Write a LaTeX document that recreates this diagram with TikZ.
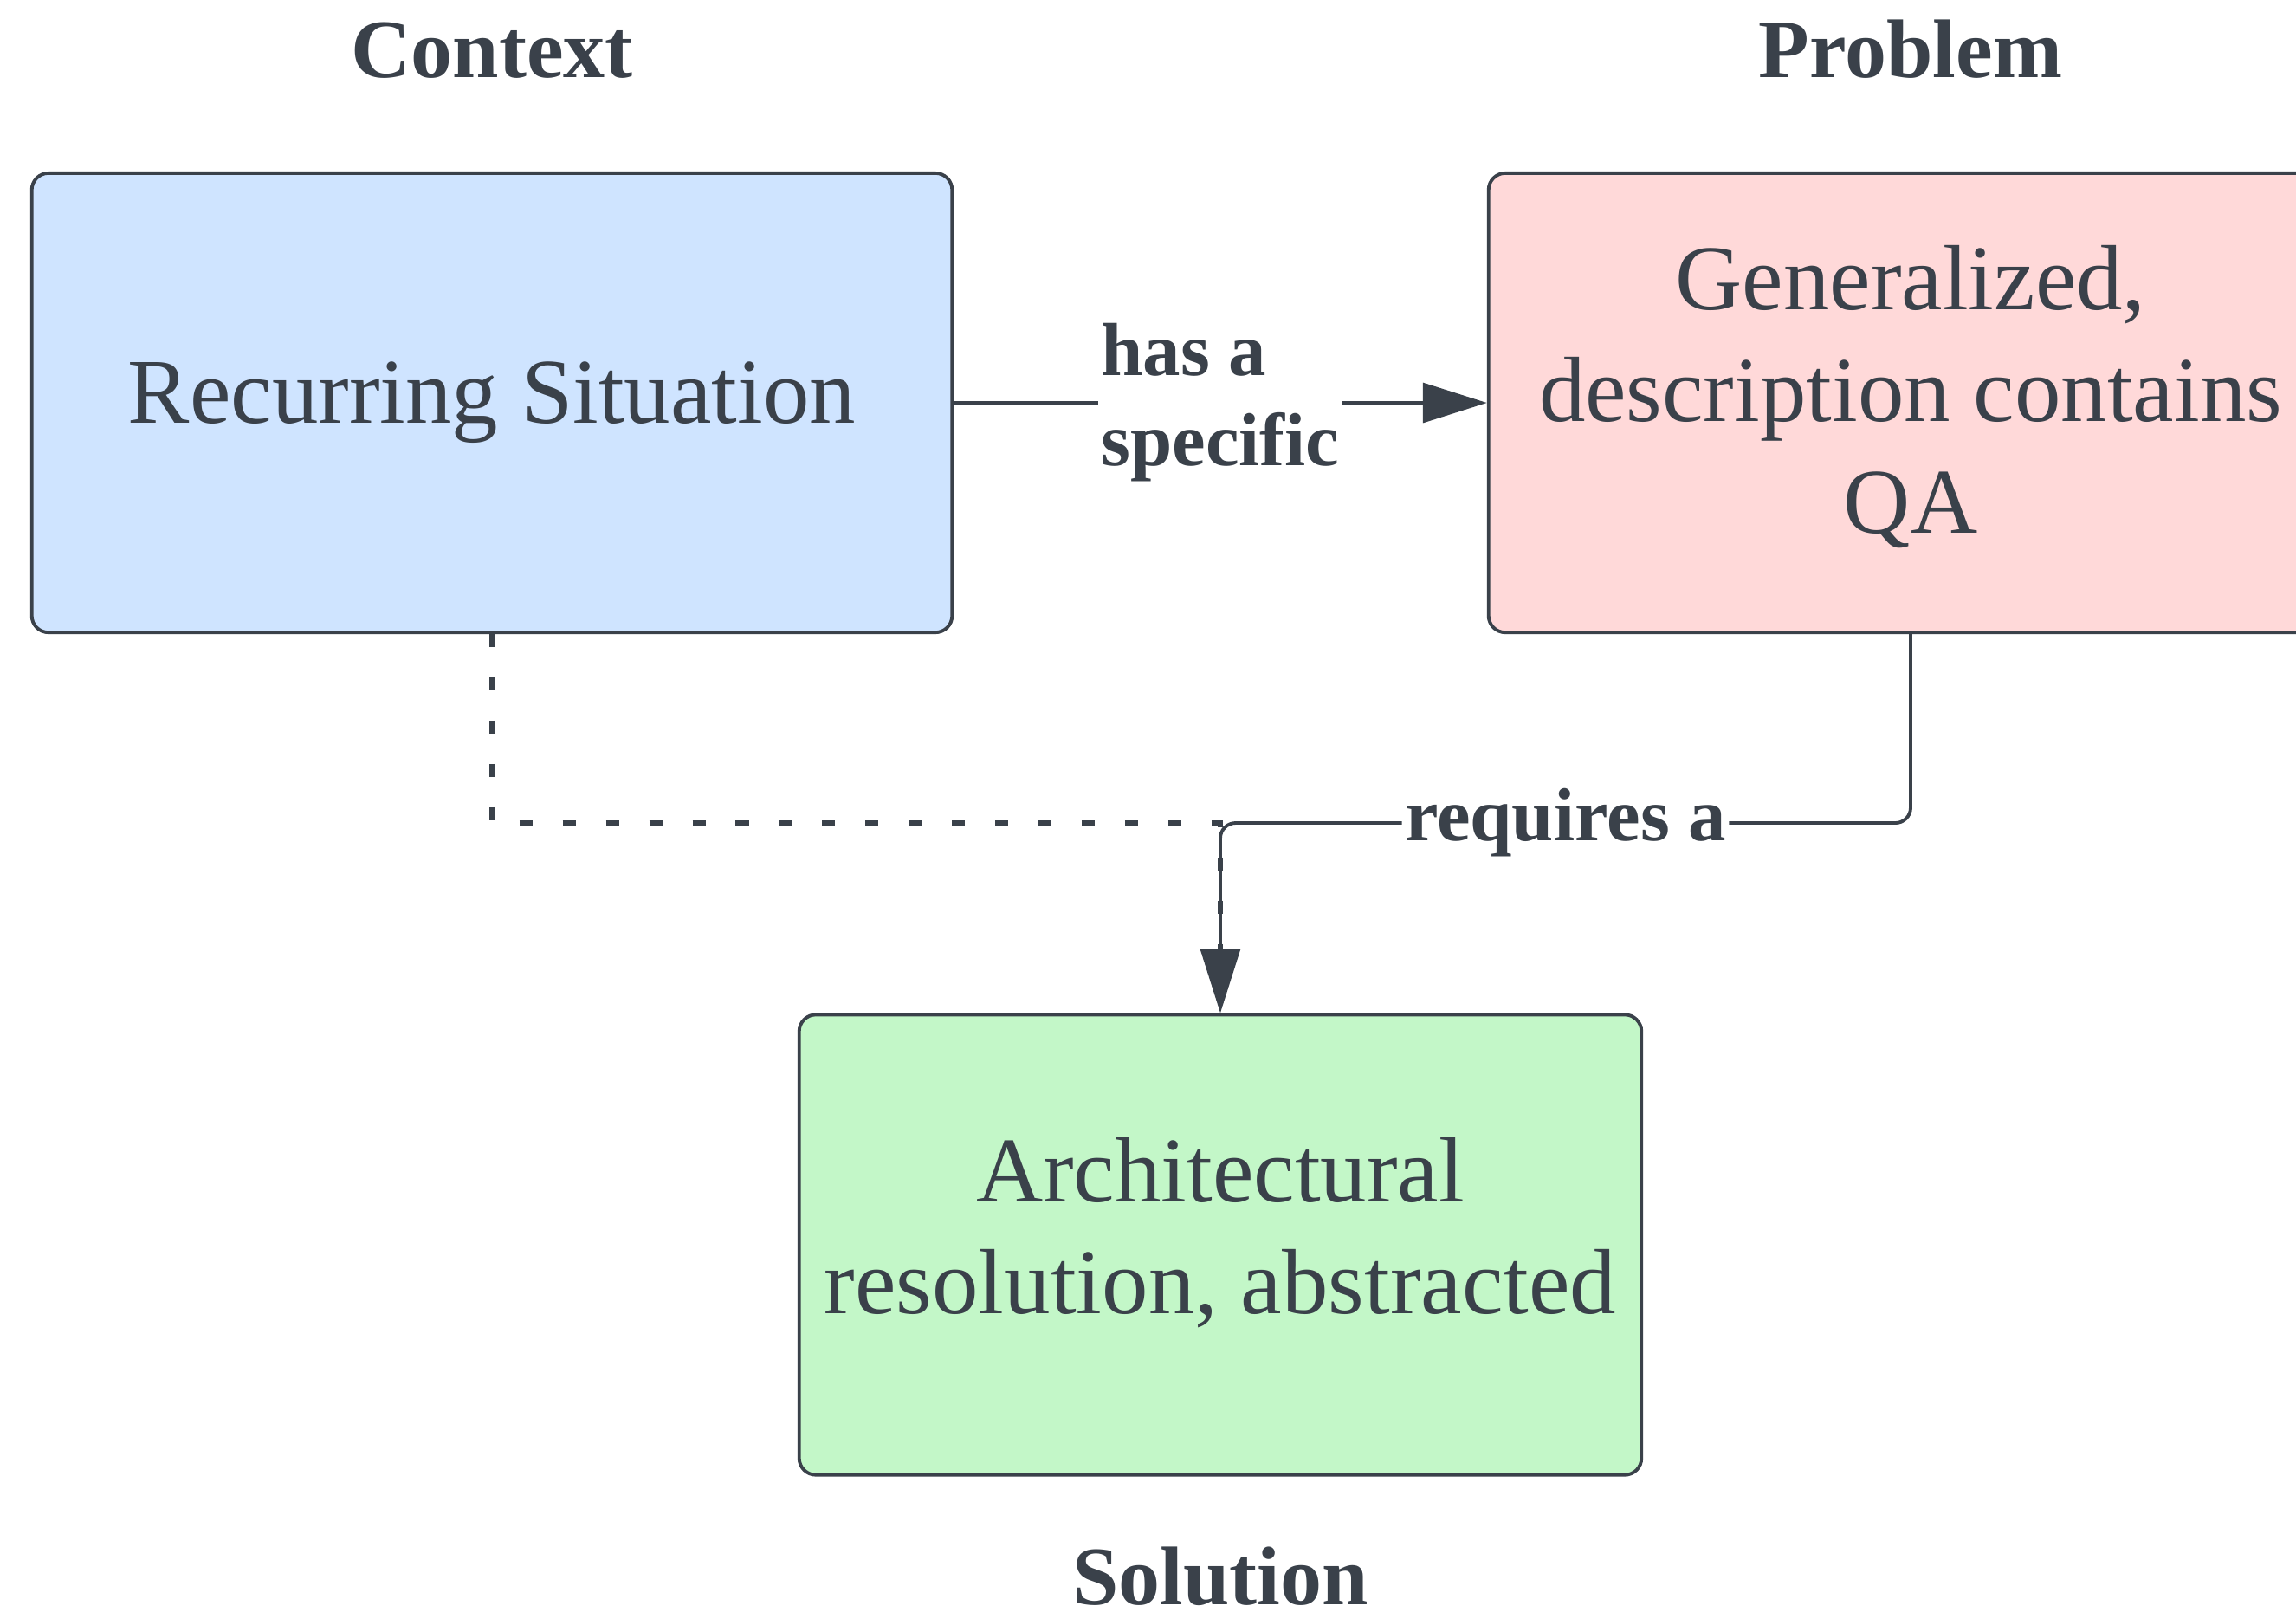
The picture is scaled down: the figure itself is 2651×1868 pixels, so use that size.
\documentclass[tikz,border=0pt]{standalone}
\usepackage{fontspec}
\setmainfont{Liberation Serif}
\usetikzlibrary{arrows.meta}
\definecolor{ink}{HTML}{3A414A}
\definecolor{bluefill}{HTML}{CFE4FF}
\definecolor{redfill}{HTML}{FFD9D9}
\definecolor{greenfill}{HTML}{C3F7C8}
\tikzset{
  box/.style={draw=ink, line width=1.1pt, rounded corners=5.5pt, inner sep=0pt},
  boxtext/.style={inner sep=0pt, align=center, text=ink, font=\fontsize{30.4}{36.6}\selectfont},
  title/.style={text=ink, font=\bfseries\fontsize{27.3}{32}\selectfont, anchor=base, inner sep=0pt},
  conn/.style={draw=ink, line width=1.1pt, -{Triangle[length=21pt,width=13pt]}},
  dotconn/.style={draw=ink, line width=1.8pt, dash pattern=on 4.3pt off 9.9pt},
  lbl/.style={text=ink, font=\bfseries\fontsize{24.7}{29.6}\selectfont, fill=white, inner sep=1pt},
}
\begin{document}
\begin{tikzpicture}[x=0.01cm, y=-0.01cm]
\useasboundingbox (0,0) rectangle (2651,1868);
\clip (0,0) rectangle (2651,1868);
\node[box, fill=bluefill, minimum width=10.62cm, minimum height=5.30cm] (ctx) at (568,465) {};
\node[box, fill=redfill, minimum width=9.74cm, minimum height=5.30cm] (prob) at (2206,465) {};
\node[box, fill=greenfill, minimum width=9.72cm, minimum height=5.31cm] (sol) at (1409,1437) {};
\node[boxtext] (ctxtext) at (568,465) {Recurring Situation};
\node[boxtext] (probtext) at (2206,458) {Generalized,\\description contains\\QA};
\node[boxtext] (soltext) at (1409,1423) {Architectural\\resolution, abstracted};
\node[title] (tctx) at (568,89) {Context};
\node[title] (tprob) at (2206,89) {Problem};
\node[title] (tsol) at (1409,1852) {Solution};
\coordinate (join) at (1409,950);
\draw[dotconn] (ctx.south) |- (join) -- (sol.north);
\draw[conn] (ctx.east) -- node[lbl, align=left]{has a\\specific} (prob.west);
\draw[conn, rounded corners=5pt] (prob.south) |- node[lbl, pos=0.75]{requires a} (join) -- (sol.north);
\end{tikzpicture}
\end{document}
